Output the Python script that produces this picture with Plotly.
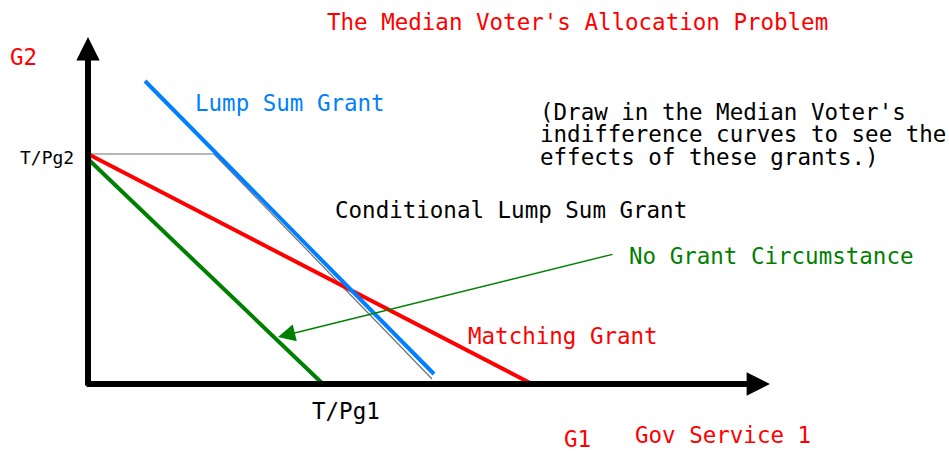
import plotly.graph_objects as go

# Data units: origin at the corner of the axes (G1 = 0, G2 = 0)
no_grant_x = [0, 235]
no_grant_y = [225, 0]
matching_x = [0, 444]
matching_y = [230, 0]
lump_sum_x = [57, 346]
lump_sum_y = [303, 10]
conditional_x = [0, 126, 344]
conditional_y = [230, 230, 5]
# arrows: (tail x, tail y, head x, head y)
pointer = (526, 130, 190, 47)
y_axis = (0, -3, 0, 347)
x_axis = (-3, 0, 682, 0)

labels = [
    # text, x, y, color, size
    ("The Median Voter's Allocation Problem", 237, 362, "#ff0000", 22.5),
    ("G2", -80, 327, "#ff0000", 22.5),
    ("Lump Sum Grant", 105, 281, "#0080ff", 22.5),
    ("(Draw in the Median Voter's", 450, 272, "#000000", 22.5),
    ("indifference curves to see the", 450, 250, "#000000", 22.5),
    ("effects of these grants.)", 450, 227, "#000000", 22.5),
    ("T/Pg2", -70, 227, "#000000", 18),
    ("Conditional Lump Sum Grant", 245, 174, "#000000", 22.5),
    ("No Grant Circumstance", 539, 128, "#008000", 22.5),
    ("Matching Grant", 378, 48, "#ff0000", 22.5),
    ("T/Pg1", 222, -27, "#000000", 22.5),
    ("G1", 474, -55, "#ff0000", 22.5),
    ("Gov Service 1", 545, -51, "#ff0000", 22.5),
]

fig = go.Figure()

# budget lines
fig.add_trace(go.Scatter(x=conditional_x, y=conditional_y, mode="lines",
                         line=dict(color="#707070", width=1.2), hoverinfo="skip"))
fig.add_trace(go.Scatter(x=no_grant_x, y=no_grant_y, mode="lines",
                         line=dict(color="#008000", width=4), hoverinfo="skip"))
fig.add_trace(go.Scatter(x=matching_x, y=matching_y, mode="lines",
                         line=dict(color="#ff0000", width=4), hoverinfo="skip"))
fig.add_trace(go.Scatter(x=lump_sum_x, y=lump_sum_y, mode="lines",
                         line=dict(color="#0080ff", width=4), hoverinfo="skip"))

# axes and pointer as arrows
for (tx, ty, hx, hy), color, width, size in [
    (y_axis, "black", 6, 0.78),
    (x_axis, "black", 6, 0.78),
    (pointer, "#008000", 1.5, 2.3),
]:
    fig.add_annotation(x=hx, y=hy, ax=tx, ay=ty, xref="x", yref="y",
                       axref="x", ayref="y", text="", showarrow=True,
                       arrowhead=2, arrowsize=size, arrowwidth=width,
                       arrowcolor=color, standoff=0, startstandoff=0)

for text, x, y, color, size in labels:
    fig.add_annotation(x=x, y=y, text=text, showarrow=False,
                       xanchor="left", yanchor="middle",
                       font=dict(family="DejaVu Sans Mono", size=size, color=color))

fig.update_layout(
    width=949, height=451,
    margin=dict(l=0, r=0, t=0, b=0),
    paper_bgcolor="white", plot_bgcolor="white",
    showlegend=False,
    xaxis=dict(range=[-88, 861], visible=False, fixedrange=True),
    yaxis=dict(range=[-67, 384], visible=False, fixedrange=True),
)

fig.write_html("out.html", config={"displayModeBar": False},
               post_script="document.body.style.margin='0';document.body.style.overflow='hidden';")
